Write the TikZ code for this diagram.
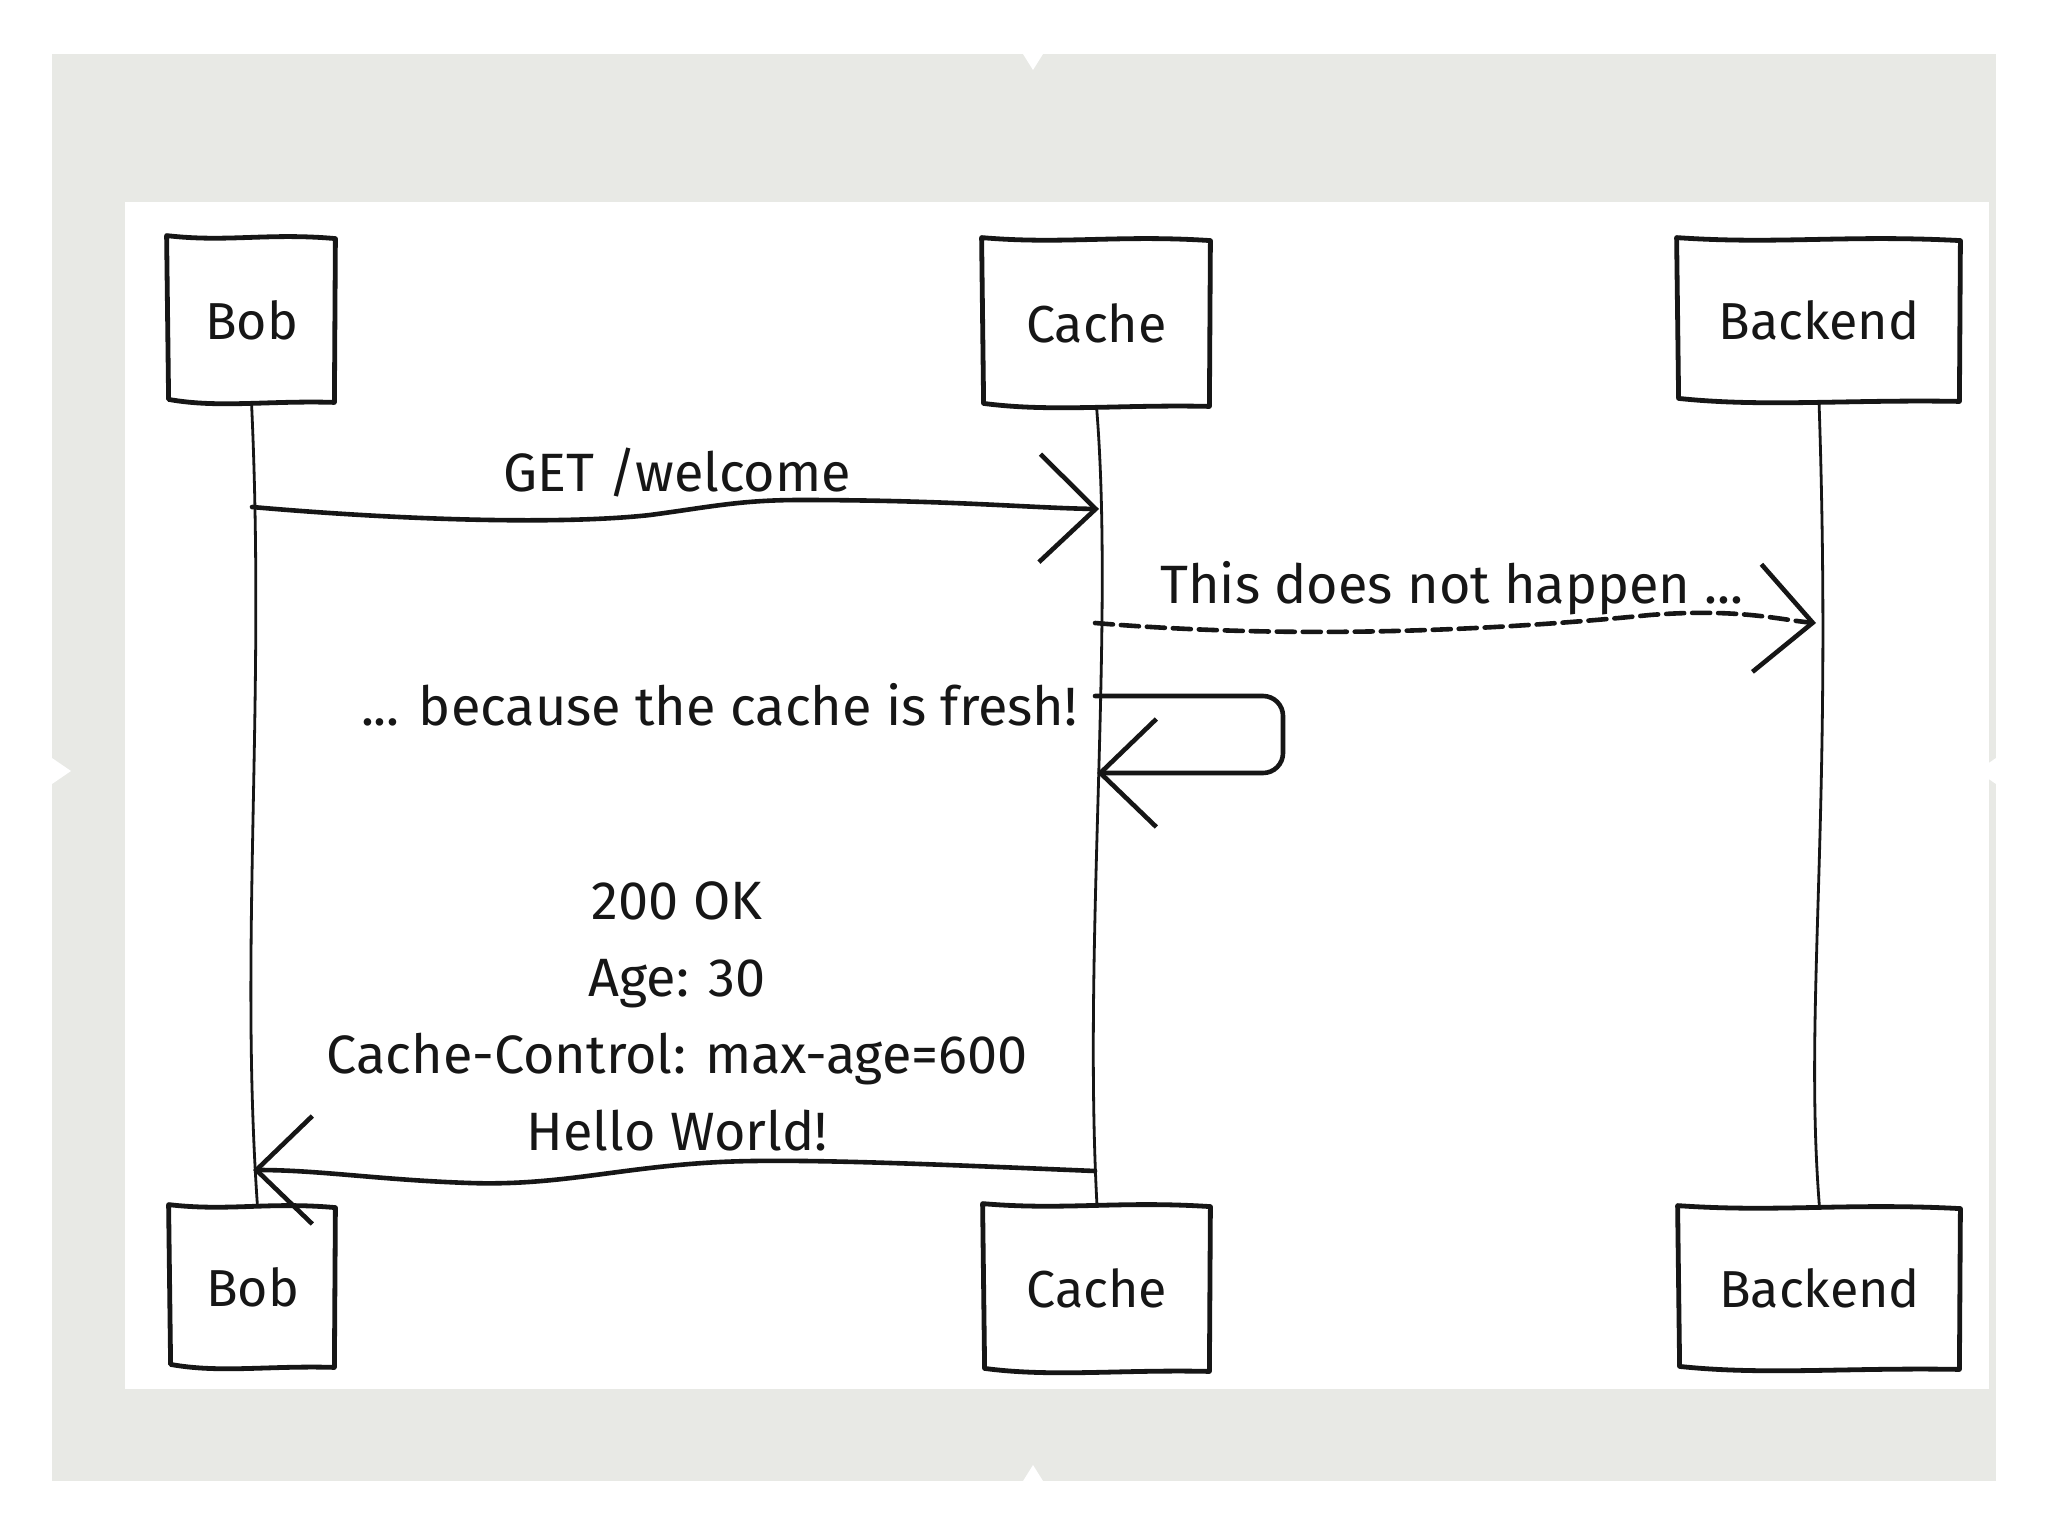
\documentclass[tikz,border=0pt]{standalone}
\usepackage{fontspec}
\setmainfont{Fira Sans}
\usetikzlibrary{arrows.meta,calc}
\definecolor{framegray}{RGB}{232,233,229}
\definecolor{ink}{RGB}{22,22,22}
\tikzset{
  actor/.style={draw=none, inner sep=0pt, font=\fontsize{26}{30}\selectfont, text=ink},
  boxline/.style={draw=ink, line width=2.4pt, line join=round, line cap=round},
  lifeline/.style={draw=ink, line width=1.4pt},
  msg/.style={draw=ink, line width=2.3pt, line cap=round,
    -{Straight Barb[length=28pt,width=54pt,line width=2.3pt]}},
  dmsg/.style={msg, dash pattern=on 9pt off 4pt},
  lbl/.style={font=\fontsize{27}{38.5}\selectfont, text=ink, inner sep=0pt, align=center},
}
\newcommand\skbox[1]{%
  \draw[boxline] ($(#1.north west)+(-3,-2)$)
    .. controls ($(#1.north west)!0.35!(#1.north east)+(0,5)$) and ($(#1.north west)!0.6!(#1.north east)+(0,-5)$) .. ($(#1.north east)+(2,1)$)
    -- ($(#1.south east)+(1,0)$)
    .. controls ($(#1.south west)!0.6!(#1.south east)+(0,-2)$) and ($(#1.south west)!0.3!(#1.south east)+(0,6)$) .. ($(#1.south west)+(-1,-3)$)
    -- cycle;}
\begin{document}
\begin{tikzpicture}[x=0.5pt,y=-0.5pt]
\useasboundingbox (0,0) rectangle (2048,1536);
\fill[white] (0,0) rectangle (2048,1536);
\fill[framegray] (52,54) rectangle (1996,1481);
\fill[white] (125,202) rectangle (1989,1389);
% notches
\fill[white] (1023,54) -- (1043,54) -- (1033,70) -- cycle;
\fill[white] (1023,1481) -- (1043,1481) -- (1033,1465) -- cycle;
\fill[white] (52,758) -- (52,784) -- (71,771) -- cycle;
\fill[white] (1996,758) -- (1996,784) -- (1977,771) -- cycle;

% actors
\node[actor, minimum width=81.5pt, minimum height=82pt] (bobT) at (251.5,320) {Bob};
\node[actor, minimum width=111.5pt, minimum height=83pt] (cacheT) at (1096.5,323) {Cache};
\node[actor, minimum width=139pt, minimum height=80.5pt] (backT) at (1819,320.5) {Backend};
\node[actor, minimum width=80.5pt, minimum height=80pt] (bobB) at (252.5,1287) {Bob};
\node[actor, minimum width=111pt, minimum height=82.5pt] (cacheB) at (1097,1288.5) {Cache};
\node[actor, minimum width=138.5pt, minimum height=80.5pt] (backB) at (1819.5,1288.5) {Backend};
\skbox{bobT}\skbox{cacheT}\skbox{backT}
\skbox{bobB}\skbox{cacheB}\skbox{backB}

% lifelines
\draw[lifeline] (bobT.south) .. controls +(14,300) and +(-18,-260) .. ($(bobB.north)+(5,0)$);
\draw[lifeline] (cacheT.south) .. controls +(18,220) and +(-14,-260) .. (cacheB.north);
\draw[lifeline] (backT.south) .. controls +(14,420) and +(-16,-200) .. (backB.north);

% message end points
\coordinate (getS) at (252,507);
\coordinate (getE) at (1099,509);
\coordinate (dS) at (1095,623);
\coordinate (dE) at (1816,623);
\coordinate (sS) at (1095,696);
\coordinate (sE) at (1097,773);
\coordinate (rS) at (1095,1171);
\coordinate (rE) at (253,1170);

% messages
\draw[msg] (getS) .. controls (400,520) and (560,525) .. (650,515)
  .. controls (710,507) and (740,500) .. (800,500)
  .. controls (950,500) and (1030,508) .. (getE);
\node[lbl] (getL) at (677,473) {GET /welcome};

\draw[dmsg] (dS) .. controls (1300,640) and (1500,630) .. (1650,615)
  .. controls (1740,608) and (1780,620) .. (dE);
\node[lbl] (dL) at (1452,588) {This does not happen ...};

\draw[msg, rounded corners=10pt] (sS) -- (1283,696) -- (1283,773) -- (sE);
\node[lbl, anchor=east] (sL) at (1078,705) {... because the cache is fresh!};

\draw[msg] (rS) .. controls (950,1165) and (800,1158) .. (720,1162)
  .. controls (620,1167) and (560,1186) .. (470,1183)
  .. controls (380,1180) and (320,1170) .. (rE);
\node[lbl] (rL) at (677,1016) {200 OK\\Age: 30\\Cache-Control: max-age=600\\Hello World!};
\end{tikzpicture}
\end{document}
